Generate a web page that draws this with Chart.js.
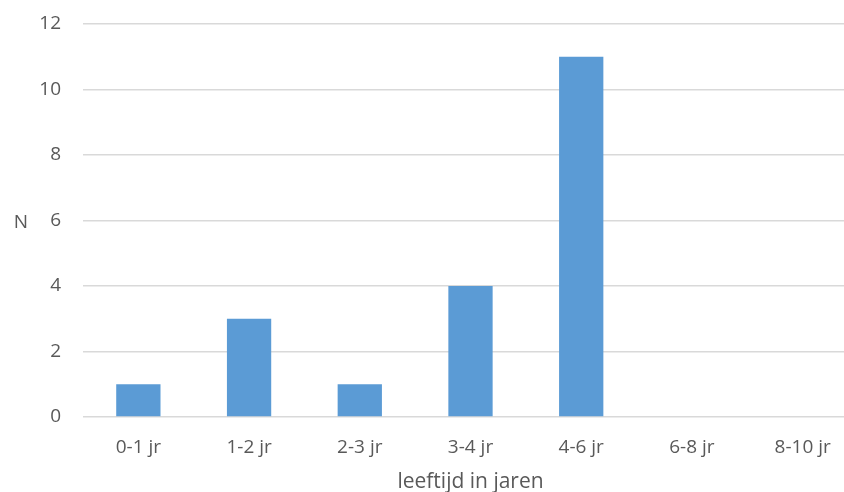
<!DOCTYPE html>
<html>
<head>
<meta charset="utf-8">
<script src="https://cdn.jsdelivr.net/npm/chart.js@4/dist/chart.umd.min.js"></script>
<style>
  html, body { margin: 0; padding: 0; background: #fff; }
  body { width: 844px; height: 492px; overflow: hidden; position: relative; }
  #wrap { position: absolute; left: 0; top: 0; width: 880px; height: 492px; }
</style>
</head>
<body>
<div id="wrap"><canvas id="c" width="880" height="492"></canvas></div>
<script>
const categories = ['0-1 jr', '1-2 jr', '2-3 jr', '3-4 jr', '4-6 jr', '6-8 jr', '8-10 jr'];
const counts = [1, 3, 1, 4, 11, 0, 0];
const yTicks = [0, 2, 4, 6, 8, 10, 12];

const FONT = '"Open Sans", "DejaVu Sans", sans-serif';
const TEXT = '#595959';
const GRID = '#d9d9d9';

// Axis titles: a horizontal "N" beside the value axis and the category title below
const axisTitles = {
  id: 'axisTitles',
  afterDraw(chart) {
    const { ctx, chartArea } = chart;
    ctx.save();
    ctx.fillStyle = TEXT;
    ctx.textAlign = 'center';
    ctx.font = '19px ' + FONT;
    ctx.textBaseline = 'middle';
    ctx.fillText('N', 21, (chartArea.top + chartArea.bottom) / 2 + 2);
    ctx.font = '21px ' + FONT;
    ctx.textBaseline = 'alphabetic';
    ctx.fillText('leeftijd in jaren', (chartArea.left + chartArea.right) / 2, chartArea.bottom + 71);
    ctx.restore();
  }
};

new Chart(document.getElementById('c'), {
  type: 'bar',
  data: {
    labels: categories,
    datasets: [{
      data: counts,
      backgroundColor: '#5b9bd5',
      borderWidth: 0,
      categoryPercentage: 1,
      barPercentage: 0.4
    }]
  },
  options: {
    responsive: false,
    animation: false,
    layout: { padding: { left: 0, right: 22, top: 24, bottom: 0 } },
    plugins: { legend: { display: false }, tooltip: { enabled: false } },
    scales: {
      x: {
        afterFit(scale) { scale.height = 75; },
        grid: { display: false, drawTicks: false },
        border: { display: false },
        ticks: { color: TEXT, font: { family: FONT, size: 19 }, padding: 19, maxRotation: 0 }
      },
      y: {
        min: 0,
        max: 12,
        afterBuildTicks(scale) { scale.ticks = yTicks.map(v => ({ value: v })); },
        afterFit(scale) {
          scale.width = 83;
          scale.paddingTop = 0;
          scale.paddingBottom = 0;
        },
        grid: { color: GRID, lineWidth: 1.5, drawTicks: false },
        border: { display: false },
        ticks: { color: TEXT, font: { family: FONT, size: 19 }, padding: 22 }
      }
    }
  },
  plugins: [axisTitles]
});
</script>
</body>
</html>
